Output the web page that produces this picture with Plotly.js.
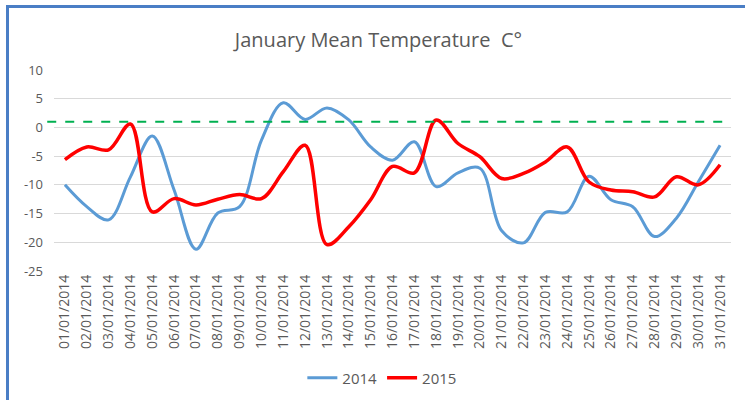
<!DOCTYPE html>
<html>
<head>
<meta charset="utf-8">
<script src="https://cdn.plot.ly/plotly-3.0.1.min.js"></script>
<style>
  html, body { margin: 0; padding: 0; background: #ffffff; }
  #wrap { position: relative; width: 745px; height: 400px; overflow: hidden; }
  #chart { position: absolute; left: 0; top: 0; width: 745px; height: 400px; }
  #frame { position: absolute; left: 6px; top: 5px; width: 800px; height: 500px;
           border-left: 3px solid #4A7EC5; border-top: 3px solid #4A7EC5; pointer-events: none; }
</style>
</head>
<body>
<div id="wrap">
  <div id="chart"></div>
  <div id="frame"></div>
</div>
<script>
const days = ["01/01/2014","02/01/2014","03/01/2014","04/01/2014","05/01/2014","06/01/2014","07/01/2014","08/01/2014","09/01/2014","10/01/2014","11/01/2014","12/01/2014","13/01/2014","14/01/2014","15/01/2014","16/01/2014","17/01/2014","18/01/2014","19/01/2014","20/01/2014","21/01/2014","22/01/2014","23/01/2014","24/01/2014","25/01/2014","26/01/2014","27/01/2014","28/01/2014","29/01/2014","30/01/2014","31/01/2014"];
const temp2014 = [-10.0,-13.8,-16.1,-8.6,-1.5,-10.9,-21.2,-14.9,-13.8,-2.2,4.3,1.4,3.4,1.3,-3.4,-5.7,-2.5,-10.3,-7.9,-7.1,-18.0,-20.1,-14.8,-14.7,-8.5,-12.6,-13.8,-19.0,-15.8,-9.5,-3.1];
const temp2015 = [-5.6,-3.4,-3.9,0.6,-14.7,-12.4,-13.5,-12.5,-11.7,-12.4,-7.7,-3.1,-20.4,-17.3,-12.6,-6.8,-7.9,1.3,-2.8,-5.1,-8.9,-8.0,-6.0,-3.4,-9.5,-10.9,-11.2,-12.1,-8.6,-10.0,-6.5];
const refLevel = 1;
const yTicks = [10,5,0,-5,-10,-15,-20,-25];

const traces = [
  { x: days, y: temp2014, name: "2014", type: "scatter", mode: "lines",
    line: { color: "#5B9BD5", width: 3, shape: "spline", smoothing: 1 } },
  { x: days, y: temp2015, name: "2015", type: "scatter", mode: "lines",
    line: { color: "#FF0000", width: 3.5, shape: "spline", smoothing: 1 } }
];

const layout = {
  width: 745, height: 400,
  paper_bgcolor: "rgba(0,0,0,0)", plot_bgcolor: "#ffffff",
  margin: { l: 54, r: 14, t: 70, b: 129, autoexpand: false },
  font: { family: "Open Sans, sans-serif", color: "#595959" },
  title: { text: "January Mean Temperature  C°", x: 0.508, xanchor: "center", y: 0.9, yanchor: "middle",
           font: { size: 20, color: "#595959", family: "Open Sans, sans-serif" } },
  xaxis: { type: "category", range: [-0.5, 30.5], tickangle: -90, showgrid: false,
           zeroline: false, showline: false, ticks: "", automargin: false,
           tickfont: { size: 14, color: "#595959" }, fixedrange: true },
  yaxis: { range: [-25, 10], tickvals: yTicks, ticktext: yTicks.map(String),
           showgrid: true, gridcolor: "#D9D9D9", gridwidth: 1, zeroline: false,
           showline: false, ticks: "", ticklabelstandoff: 10, automargin: false,
           tickfont: { size: 13, color: "#595959" }, fixedrange: true },
  showlegend: true,
  legend: { orientation: "h", x: 0.485, xanchor: "center", yref: "container", y: 0.055, yanchor: "middle",
            font: { size: 15, color: "#595959" }, itemwidth: 30 },
  shapes: [
    { type: "line", xref: "paper", yref: "y", x0: -0.01, x1: 0.991, y0: refLevel, y1: refLevel,
      line: { color: "#00B050", width: 2, dash: "dash" } }
  ]
};

Plotly.newPlot("chart", traces, layout, { displayModeBar: false, staticPlot: true });
</script>
</body>
</html>
